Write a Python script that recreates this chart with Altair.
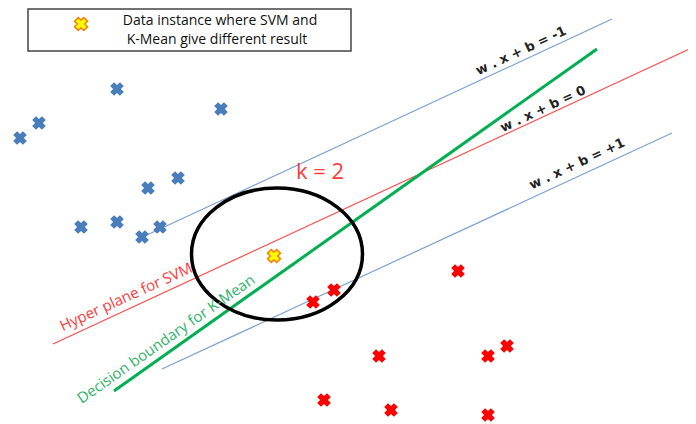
import altair as alt
import pandas as pd

# ---- data (image pixel coordinates) ----
blue_x = [20, 39, 117, 221, 148, 178, 81, 117, 142, 160]
blue_y = [138, 123, 89, 109, 188, 178, 227, 222, 237, 227]
red_x = [458, 313, 334, 379, 488, 507, 324, 391, 488]
red_y = [271, 302, 290, 356, 356, 346, 400, 410, 415]
odd_x = [274, 81]
odd_y = [256, 24]

line_names = ["upper", "svm", "lower", "kmean"]
line_x1 = [147, 53, 162, 114]
line_y1 = [235, 344, 369, 391]
line_x2 = [612, 696, 672, 597]
line_y2 = [19, 46, 133, 49]
line_colors = ["#7aa0d4", "#ff4b4b", "#7aa0d4", "#00b050"]
line_widths = [1.2, 1.2, 1.2, 3.0]

labels = ["w . x + b = -1", "w . x + b = 0", "w . x + b = +1",
          "Hyper plane for SVM", "Decision boundary for K-Mean", "k = 2"]
label_x = [521, 543, 577, 126, 166, 320]
label_y = [51, 109, 164, 297, 339, 172]
label_angle = [335, 335, 335, 335.5, 325, 0]
label_color = ["#222222", "#222222", "#222222", "#ff3b3b", "#2fb36a", "#ff3b3b"]
label_size = [13, 13, 13, 15, 15, 22]
label_weight = ["bold", "bold", "bold", "normal", "normal", "normal"]
label_font = ["DejaVu Sans", "DejaVu Sans", "DejaVu Sans", "Open Sans", "Open Sans", "Open Sans"]

legend_lines = ["Data instance where SVM and", "K-Mean give different result"]
legend_x = [220, 217]
legend_y = [21, 40]

circle_x = [277]
circle_y = [254]

X = alt.Scale(domain=[8, 688])
Y = alt.Scale(domain=[8, 416], reverse=True)

def xe(f):
    return alt.X(f, type="quantitative", scale=X, axis=None)

def ye(f):
    return alt.Y(f, type="quantitative", scale=Y, axis=None)

# lines
rows = []
for i, n in enumerate(line_names):
    rows.append(dict(name=n, x=line_x1[i], y=line_y1[i], c=line_colors[i], w=line_widths[i], o=0))
    rows.append(dict(name=n, x=line_x2[i], y=line_y2[i], c=line_colors[i], w=line_widths[i], o=1))
lines_df = pd.DataFrame(rows)
lines = alt.Chart(lines_df).mark_line(clip=True).encode(
    x=xe("x"), y=ye("y"), detail="name:N", order="o:Q",
    color=alt.Color("c:N", scale=None),
    strokeWidth=alt.StrokeWidth("w:Q", scale=None),
)

# legend box
box_df = pd.DataFrame({"x": [28], "x2": [351], "y": [9], "y2": [51]})
box = alt.Chart(box_df).mark_rect(fill="white", stroke="#444444", strokeWidth=1.5).encode(
    x=xe("x"), x2="x2", y=ye("y"), y2="y2")

legend_df = pd.DataFrame({"t": legend_lines, "x": legend_x, "y": legend_y})
legend_text = alt.Chart(legend_df).mark_text(
    font="Open Sans", fontSize=14, color="#111111", align="center", baseline="middle"
).encode(x=xe("x"), y=ye("y"), text="t:N")

# ellipse (k-means neighbourhood)
ell_path = "M -1 0 A 1 0.772 0 1 1 1 0 A 1 0.772 0 1 1 -1 0 Z"
circ = alt.Chart(pd.DataFrame({"x": circle_x, "y": circle_y})).mark_point(
    shape=ell_path, size=171 * 171, filled=False, stroke="black", strokeWidth=3.5, opacity=1
).encode(x=xe("x"), y=ye("y"))

pts_common = dict(shape="cross", angle=45, size=190, filled=True, opacity=1)
blue = alt.Chart(pd.DataFrame({"x": blue_x, "y": blue_y})).mark_point(
    color="#4a7ebb", **pts_common).encode(x=xe("x"), y=ye("y"))
red = alt.Chart(pd.DataFrame({"x": red_x, "y": red_y})).mark_point(
    color="#ff0000", **pts_common).encode(x=xe("x"), y=ye("y"))
odd = alt.Chart(pd.DataFrame({"x": odd_x, "y": odd_y})).mark_point(
    shape="cross", angle=45, size=170, filled=True, opacity=1,
    fill="#ffff00", stroke="#ff7a00", strokeWidth=1.5).encode(x=xe("x"), y=ye("y"))

lab_df = pd.DataFrame({"t": labels, "x": label_x, "y": label_y})
lab_layers = []
for i in range(len(labels)):
    lab_layers.append(
        alt.Chart(lab_df.iloc[[i]]).mark_text(
            font=label_font[i], fontSize=label_size[i], fontWeight=label_weight[i],
            color=label_color[i], angle=label_angle[i], align="center", baseline="middle"
        ).encode(x=xe("x"), y=ye("y"), text="t:N")
    )

chart = alt.layer(lines, box, legend_text, circ, blue, red, odd, *lab_layers).properties(
    width=680, height=408, padding=0, background="white"
).configure_view(stroke=None)

chart.save("out.html", embed_options={"renderer": "svg", "actions": False})
